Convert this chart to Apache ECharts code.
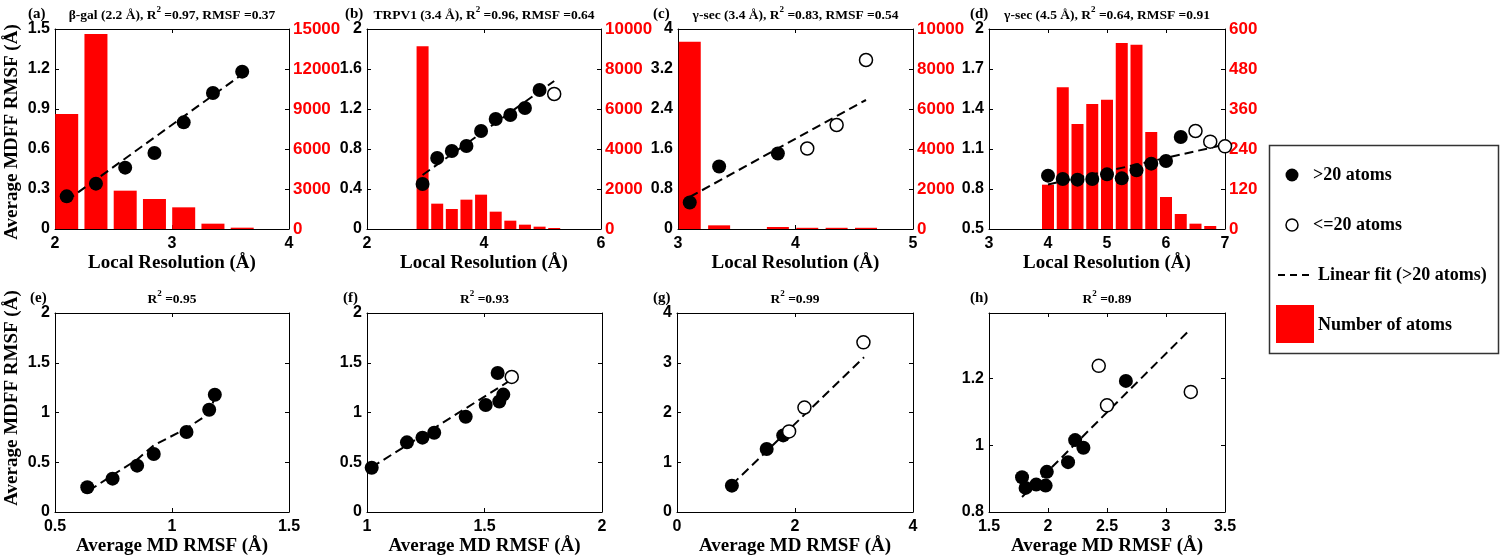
<!DOCTYPE html>
<html><head><meta charset="utf-8">
<script src="https://cdn.jsdelivr.net/npm/echarts@6/dist/echarts.min.js"></script>
<style>html,body{margin:0;padding:0;background:#fff}#c{width:1500px;height:557px}</style>
</head><body><div id="c"></div>
<script>
// ---------- DATA ----------
// (a) beta-gal
const aBinX = [2.1, 2.35, 2.6, 2.85, 3.1, 3.35, 3.6];
const aAtoms = [8625, 14625, 2875, 2250, 1625, 400, 100];
const aFilledX = [2.1, 2.35, 2.6, 2.85, 3.1, 3.35, 3.6];
const aFilledY = [0.245, 0.34, 0.46, 0.57, 0.80, 1.02, 1.18];
const aOpenX = [];
const aOpenY = [];
const aFitX = [2.1, 3.6];
const aFitY = [0.213, 1.16];
// (b) TRPV1
const bBinX = [2.95, 3.2, 3.45, 3.7, 3.95, 4.2, 4.45, 4.7, 4.95, 5.2];
const bAtoms = [9133, 1267, 1000, 1467, 1717, 867, 417, 217, 117, 50];
const bFilledX = [2.95, 3.2, 3.45, 3.7, 3.95, 4.2, 4.45, 4.7, 4.95];
const bFilledY = [0.45, 0.71, 0.78, 0.83, 0.98, 1.10, 1.14, 1.21, 1.39];
const bOpenX = [5.2];
const bOpenY = [1.35];
const bFitX = [2.95, 5.2];
const bFitY = [0.54, 1.48];
// (c) gamma-sec 3.4
const cBinX = [3.1, 3.35, 3.6, 3.85, 4.1, 4.35, 4.6];
const cAtoms = [9367, 183, 0, 100, 60, 60, 60];
const cFilledX = [3.1, 3.35, 3.85];
const cFilledY = [0.53, 1.25, 1.51];
const cOpenX = [4.1, 4.35, 4.6];
const cOpenY = [1.61, 2.08, 3.38];
const cFitX = [3.1, 4.6];
const cFitY = [0.64, 2.58];
// (d) gamma-sec 4.5
const dBinX = [4.0, 4.25, 4.5, 4.75, 5.0, 5.25, 5.5, 5.75, 6.0, 6.25, 6.5, 6.75];
const dAtoms = [133, 425, 315, 375, 388, 558, 553, 291, 96, 45, 16, 9];
const dFilledX = [4.0, 4.25, 4.5, 4.75, 5.0, 5.25, 5.5, 5.75, 6.0, 6.25];
const dFilledY = [0.90, 0.875, 0.87, 0.875, 0.91, 0.88, 0.94, 0.99, 1.01, 1.19];
const dOpenX = [6.5, 6.75, 7.0];
const dOpenY = [1.235, 1.155, 1.12];
const dFitX = [4.0, 7.0];
const dFitY = [0.834, 1.133];
// (e)
const eFilledX = [0.638, 0.746, 0.851, 0.922, 1.062, 1.159, 1.183];
const eFilledY = [0.248, 0.335, 0.466, 0.583, 0.804, 1.028, 1.179];
const eOpenX = [];
const eOpenY = [];
const eFitX = [0.645, 0.746, 0.851, 0.922, 1.062, 1.159, 1.183];
const eFitY = [0.214, 0.37, 0.527, 0.67, 0.84, 0.99, 1.155];
// (f)
const fFilledX = [1.02, 1.17, 1.236, 1.286, 1.42, 1.505, 1.563, 1.580, 1.556];
const fFilledY = [0.445, 0.70, 0.747, 0.797, 0.958, 1.075, 1.11, 1.18, 1.397];
const fOpenX = [1.616];
const fOpenY = [1.357];
const fFitX = [1.02, 1.615];
const fFitY = [0.45, 1.33];
// (g)
const gFilledX = [0.93, 1.52, 1.80];
const gFilledY = [0.53, 1.266, 1.54];
const gOpenX = [1.90, 2.16, 3.16];
const gOpenY = [1.62, 2.10, 3.41];
const gFitX = [0.93, 3.17];
const gFitY = [0.55, 3.11];
// (h)
const hFilledX = [1.78, 1.81, 1.90, 1.98, 1.99, 2.17, 2.23, 2.30, 2.66];
const hFilledY = [0.904, 0.872, 0.882, 0.879, 0.92, 0.949, 1.015, 0.992, 1.192];
const hOpenX = [2.43, 2.50, 3.21];
const hOpenY = [1.237, 1.119, 1.159];
const hFitX = [1.78, 3.18];
const hFitY = [0.845, 1.337];

// text labels
const panelTags = ['(a)', '(b)', '(c)', '(d)', '(e)', '(f)', '(g)', '(h)'];
const panelNames = ['β-gal (2.2 Å), ', 'TRPV1 (3.4 Å), ', 'γ-sec (3.4 Å), ', 'γ-sec (4.5 Å), ', '', '', '', ''];
const panelR2 = ['0.97', '0.96', '0.83', '0.64', '0.95', '0.93', '0.99', '0.89'];
const panelRMSF = ['0.37', '0.64', '0.54', '0.91', null, null, null, null];
const xNameTop = 'Local Resolution (Å)';
const xNameBottom = 'Average MD RMSF (Å)';
const yName = 'Average MDFF RMSF (Å)';
const legendLabels = ['>20 atoms', '<=20 atoms', 'Linear fit (>20 atoms)', 'Number of atoms'];

// ---------- LAYOUT ----------
const panels = [
  {grid:[55,29,234,200], tagX:28, yNameY:132, x:[2,4,1], y:[0,1.5,0.3], y2:[0,15000,3000], barX:aBinX, barY:aAtoms, bw:23, fx:aFilledX, fy:aFilledY, ox:aOpenX, oy:aOpenY, lx:aFitX, ly:aFitY, xName:xNameTop, yName:yName},
  {grid:[367,29,234,200], tagX:345, x:[2,6,2], y:[0,2,0.4], y2:[0,10000,2000], barX:bBinX, barY:bAtoms, bw:12, fx:bFilledX, fy:bFilledY, ox:bOpenX, oy:bOpenY, lx:bFitX, ly:bFitY, xName:xNameTop},
  {grid:[678,29,235,200], tagX:653, x:[3,5,1], y:[0,4,0.8], y2:[0,10000,2000], barX:cBinX, barY:cAtoms, bw:22, fx:cFilledX, fy:cFilledY, ox:cOpenX, oy:cOpenY, lx:cFitX, ly:cFitY, xName:xNameTop},
  {grid:[989,29,236,200], tagX:970, x:[3,7,1], y:[0.5,2,0.3], y2:[0,600,120], barX:dBinX, barY:dAtoms, bw:12, fx:dFilledX, fy:dFilledY, ox:dOpenX, oy:dOpenY, lx:dFitX, ly:dFitY, xName:xNameTop},
  {grid:[55,313,234,199], tagX:30, yNameY:398, x:[0.5,1.5,0.5], y:[0,2,0.5], fx:eFilledX, fy:eFilledY, ox:eOpenX, oy:eOpenY, lx:eFitX, ly:eFitY, xName:xNameBottom, yName:yName},
  {grid:[367,313,235,199], tagX:343, x:[1,2,0.5], y:[0,2,0.5], fx:fFilledX, fy:fFilledY, ox:fOpenX, oy:fOpenY, lx:fFitX, ly:fFitY, xName:xNameBottom},
  {grid:[677,313,236,199], tagX:653, x:[0,4,2], y:[0,4,1], fx:gFilledX, fy:gFilledY, ox:gOpenX, oy:gOpenY, lx:gFitX, ly:gFitY, xName:xNameBottom},
  {grid:[989,313,236,199], tagX:970, x:[1.5,3.5,0.5], y:[0.8,1.395,0.2], fx:hFilledX, fy:hFilledY, ox:hOpenX, oy:hOpenY, lx:hFitX, ly:hFitY, xName:xNameBottom}
];

const SANS = 'Liberation Sans', SERIF = 'Liberation Serif';
const zip = (xs, ys) => xs.map((v, i) => [v, ys[i]]);
const grids = [], xAxes = [], yAxes = [], series = [], graphics = [];
const lineBlack = {show:true, onZero:false, lineStyle:{color:'#000', width:1}};
const tickIn = {show:true, inside:true, length:4, lineStyle:{color:'#000', width:1}};
const lblBlack = {color:'#000', fontFamily:SANS, fontWeight:'bold', fontSize:16};

panels.forEach((p, k) => {
  const gi = grids.length;
  grids.push({left:p.grid[0], top:p.grid[1], width:p.grid[2], height:p.grid[3]});
  const xi = xAxes.length;
  xAxes.push({type:'value', gridIndex:gi, position:'bottom', min:p.x[0], max:p.x[1], interval:p.x[2],
    axisLine:lineBlack, axisTick:tickIn, splitLine:{show:false},
    axisLabel:Object.assign({margin:7}, lblBlack),
    name:p.xName, nameLocation:'middle', nameGap:25,
    nameTextStyle:{fontFamily:SERIF, fontWeight:'bold', fontSize:19, color:'#000', verticalAlign:'top'}});
  xAxes.push({type:'value', gridIndex:gi, position:'top', min:p.x[0], max:p.x[1], interval:p.x[2],
    axisLine:lineBlack, axisTick:tickIn, splitLine:{show:false}, axisLabel:{show:false}});
  const yi = yAxes.length;
  yAxes.push({type:'value', gridIndex:gi, position:'left', min:p.y[0], max:p.y[1], interval:p.y[2],
    axisLine:lineBlack, axisTick:tickIn, splitLine:{show:false},
    axisLabel:Object.assign({margin:5, showMaxLabel: k !== 7}, lblBlack)});
  const hasBars = !!p.barX;
  yAxes.push({type:'value', gridIndex:gi, position:'right',
    min: hasBars ? p.y2[0] : p.y[0], max: hasBars ? p.y2[1] : p.y[1], interval: hasBars ? p.y2[2] : p.y[2],
    axisLine:lineBlack, axisTick:tickIn, splitLine:{show:false},
    axisLabel: hasBars ? {show:true, margin:4, color:'#ff0000', fontFamily:SANS, fontWeight:'bold', fontSize:17,
      formatter: v => String(Math.round(v))} : {show:false}});
  if (hasBars) {
    series.push({type:'bar', xAxisIndex:xi, yAxisIndex:yi+1, data:zip(p.barX, p.barY), barWidth:p.bw,
      itemStyle:{color:'#ff0000', opacity:1}, z:1, silent:true});
  }
  series.push({type:'line', xAxisIndex:xi, yAxisIndex:yi, data:zip(p.lx, p.ly), symbol:'none',
    lineStyle:{color:'#000', width:2, type:[9,5], opacity:1}, z:3, silent:true});
  series.push({type:'scatter', xAxisIndex:xi, yAxisIndex:yi, data:zip(p.fx, p.fy), symbol:'circle', symbolSize:14,
    itemStyle:{color:'#000', opacity:1}, z:4, silent:true});
  if (p.ox.length) {
    series.push({type:'scatter', xAxisIndex:xi, yAxisIndex:yi, data:zip(p.ox, p.oy), symbol:'circle', symbolSize:13,
      itemStyle:{color:'#fff', borderColor:'#000', borderWidth:1.5, opacity:1}, z:4, silent:true});
  }
  // titles
  const gx = p.grid[0], gy = p.grid[1], gw = p.grid[2];
  graphics.push({type:'text', x:p.tagX, y:gy - 15, style:{text:panelTags[k], x:0, y:0, textAlign:'left', align:'left',
    textVerticalAlign:'middle', verticalAlign:'middle', font:'bold 15px "' + SERIF + '"', fill:'#000'}});
  let t = (panelNames[k] ? '{n|' + panelNames[k] + '}' : '') + '{n|R}{s|2}{n| =' + panelR2[k] + '}' + (panelRMSF[k] ? '{n|, RMSF =' + panelRMSF[k] + '}' : '');
  graphics.push({type:'text', x:gx + gw/2, y:gy - 15, style:{text:t, x:0, y:0, textAlign:'center', align:'center',
    textVerticalAlign:'middle', verticalAlign:'middle', fill:'#000',
    rich:{n:{fontFamily:SERIF, fontWeight:'bold', fontSize:13.5, lineHeight:17, verticalAlign:'bottom', color:'#000'},
          s:{fontFamily:SERIF, fontWeight:'bold', fontSize:9, lineHeight:10, verticalAlign:'top', color:'#000'}}}});
  if (p.yName) {
    graphics.push({type:'text', x:12, y:p.yNameY, rotation:Math.PI/2, style:{text:p.yName, x:0, y:0,
      textAlign:'center', align:'center', textVerticalAlign:'middle', verticalAlign:'middle',
      font:'bold 19px "' + SERIF + '"', fill:'#000'}});
  }
});

// legend box
const LF = 'bold 18px "' + SERIF + '"';
graphics.push({type:'rect', shape:{x:1269.5, y:145.5, width:229, height:208}, style:{fill:'#fff', stroke:'#333', lineWidth:1.5}, z:0});
graphics.push({type:'circle', shape:{cx:1292, cy:175, r:6.5}, style:{fill:'#000'}});
graphics.push({type:'circle', shape:{cx:1292, cy:225, r:6}, style:{fill:'#fff', stroke:'#000', lineWidth:1.5}});
graphics.push({type:'line', shape:{x1:1278, y1:275, x2:1313, y2:275}, style:{stroke:'#000', lineWidth:2, lineDash:[7,5]}});
graphics.push({type:'rect', shape:{x:1276, y:305, width:38, height:38}, style:{fill:'#ff0000'}});
[[1313,175],[1313,225],[1318,275],[1318,325]].forEach((pos, i) => {
  graphics.push({type:'text', x:pos[0], y:pos[1], style:{text:legendLabels[i], x:0, y:0, font:LF, fill:'#000',
    textVerticalAlign:'middle', verticalAlign:'middle', textAlign:'left', align:'left'}});
});

const chart = echarts.init(document.getElementById('c'), null, {renderer:'canvas'});
chart.setOption({
  animation:false,
  backgroundColor:'#fff',
  grid:grids, xAxis:xAxes, yAxis:yAxes, series:series, graphic:graphics
});
</script></body></html>
